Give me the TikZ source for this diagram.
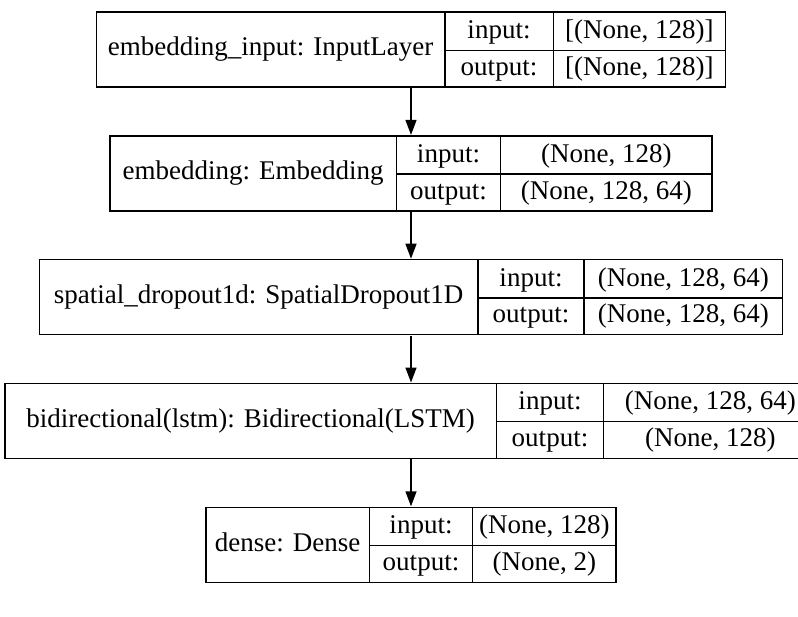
\documentclass[tikz,border=0pt]{standalone}
\usepackage{fontspec}
\setmainfont{Liberation Serif}
\usepackage{array}
\usepackage{multirow}
\usetikzlibrary{arrows.meta, positioning}
\newcolumntype{C}[1]{>{\centering\arraybackslash}p{#1}}
\setlength{\arrayrulewidth}{1.4pt}
\setlength{\tabcolsep}{0pt}
\renewcommand{\arraystretch}{1.15}
\tikzset{
    layer/.style={rectangle, inner sep=0pt, font=\fontsize{27}{32}\selectfont},
    arrow/.style={line width=1.4pt, -{Triangle[length=15pt, width=11pt]}}
}

\begin{document}
\begin{tikzpicture}[x=1pt, y=1pt, node distance=47pt]

    \useasboundingbox (0,0) rectangle (798,-616);

    % EMBEDDING_INPUT Layer
    \node (input) [layer] at (411,-49.5) {
        \begin{tabular}{|C{347pt}|C{107pt}|C{171pt}|}
            \hline
            \multirow{2}{*}{embedding\_input: InputLayer} & input: & [(None, 128)] \\ \cline{2-3}
             & output: & [(None, 128)] \\ \hline
        \end{tabular}
    };

    % EMBEDDING Layer
    \node (embedding) [layer, below=of input] {
        \begin{tabular}{|C{285pt}|C{103pt}|C{210pt}|}
            \hline
            \multirow{2}{*}{embedding: Embedding} & input: & (None, 128) \\ \cline{2-3}
             & output: & (None, 128, 64) \\ \hline
        \end{tabular}
    };

    % SPATIAL_DROPOUT Layer
    \node (dropout) [layer, below=of embedding] {
        \begin{tabular}{|C{437pt}|C{105pt}|C{197pt}|}
            \hline
            \multirow{2}{*}{spatial\_dropout1d: SpatialDropout1D} & input: & (None, 128, 64) \\ \cline{2-3}
             & output: & (None, 128, 64) \\ \hline
        \end{tabular}
    };

    % BIDIRECTIONAL Layer
    \node (lstm) [layer, below=of dropout] {
        \begin{tabular}{|C{490pt}|C{106pt}|C{212pt}|}
            \hline
            \multirow{2}{*}{bidirectional(lstm): Bidirectional(LSTM)} & input: & (None, 128, 64) \\ \cline{2-3}
             & output: & (None, 128) \\ \hline
        \end{tabular}
    };

    % DENSE Layer
    \node (dense) [layer, below=of lstm] {
        \begin{tabular}{|C{162pt}|C{102pt}|C{142pt}|}
            \hline
            \multirow{2}{*}{dense: Dense} & input: & (None, 128) \\ \cline{2-3}
             & output: & (None, 2) \\ \hline
        \end{tabular}
    };

    % Connections
    \draw [arrow] (input) -- (embedding);
    \draw [arrow] (embedding) -- (dropout);
    \draw [arrow] (dropout) -- (lstm);
    \draw [arrow] (lstm) -- (dense);

\end{tikzpicture}
\end{document}
